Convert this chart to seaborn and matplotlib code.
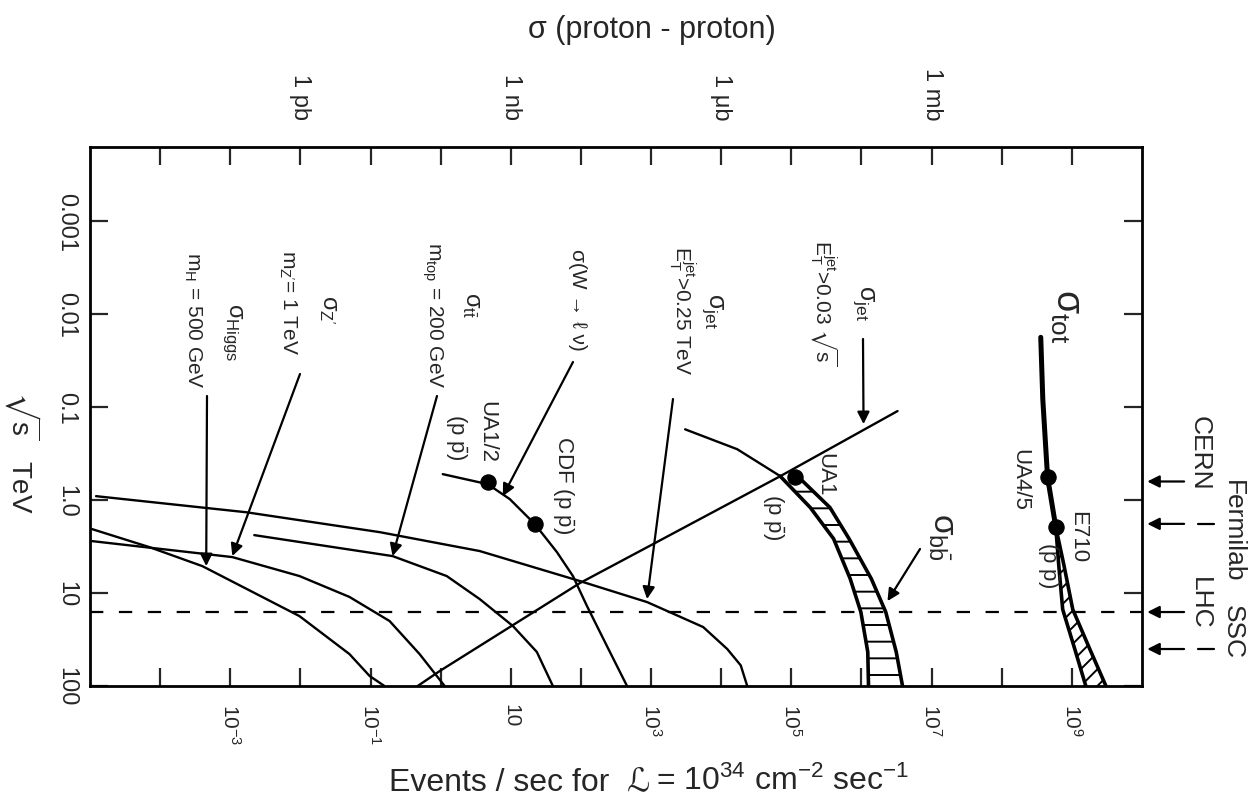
import matplotlib
matplotlib.use("Agg")
import matplotlib.pyplot as plt
import matplotlib.ticker as mticker
import pandas as pd
import seaborn as sns

# ---------------- data ----------------
# total cross section: solid part and hatched band
tot_sqrts = [0.0177, 0.082, 0.566, 1.95]
tot_events = [3.6e8, 3.85e8, 4.5e8, 5.9e8]
tot_band_sqrts = [1.95, 5.0, 15.0, 40.0, 100.0]
tot_band_low = [5.9e8, 6.5e8, 7.4e8, 1.1e9, 1.58e9]
tot_band_high = [5.9e8, 7.7e8, 1.03e9, 1.8e9, 3.06e9]

# b b-bar: thin part and hatched band
bb_sqrts_thin = [0.173, 0.283, 0.55]
bb_events_thin = [3.06e3, 1.69e4, 6.9e4]
bb_band_sqrts = [0.55, 1.2, 2.6, 7.0, 16.0, 43.0, 100.0]
bb_band_low = [6.9e4, 1.86e5, 4.0e5, 6.9e5, 9.8e5, 1.23e6, 1.26e6]
bb_band_high = [1.22e5, 3.55e5, 6.65e5, 1.38e6, 2.22e6, 3.13e6, 3.85e6]

# jets, E_T > 0.03 sqrt(s)
jet003_sqrts = [0.110, 0.552, 2.97, 7.8, 69.0, 100.0]
jet003_events = [3.27e6, 6.97e4, 1069, 96.8, 0.97, 0.47]

# jets, E_T > 0.25 TeV
jet025_sqrts = [0.906, 1.35, 2.21, 3.53, 7.43, 12.5, 23.2, 40.0, 60.0, 100.0]
jet025_events = [1.22e-5, 1.69e-3, 0.135, 3.6, 96.8, 877, 5.53e3, 1.22e4, 1.9e4, 2.35e4]

# W -> l nu
w_sqrts = [0.525, 0.673, 0.975, 1.81, 3.62, 6.56, 13.8, 37.2, 100.0]
w_events = [1.07, 4.69, 9.68, 22, 45.4, 76.9, 122, 235, 454]

# t t-bar, m_top = 200 GeV
tt_sqrts = [2.38, 4.0, 6.56, 11.6, 22.6, 43.0, 100.0]
tt_events = [2.2e-3, 0.206, 1.22, 3.6, 10.7, 23.5, 39.8]

# Z', m = 1 TeV
zp_sqrts = [2.76, 4.1, 6.56, 11.0, 20.0, 45.3, 100.0]
zp_events = [1.07e-5, 1.07e-3, 9.7e-3, 0.05, 0.187, 0.5, 1.14]

# Higgs, m_H = 500 GeV
higgs_sqrts = [2.05, 3.2, 5.13, 17.7, 45.3, 78.0, 100.0]
higgs_events = [1.07e-5, 7.0e-5, 4.0e-4, 9.7e-3, 0.05, 0.097, 0.158]

# measured points
point_names = ["UA1/2", "CDF", "UA1", "UA4/5", "E710"]
point_sqrts = [0.64, 1.81, 0.566, 0.566, 1.95]
point_events = [4.69, 22, 1.14e5, 4.5e8, 5.9e8]

# colliders
colliders = ["CERN", "Fermilab", "LHC", "SSC"]
collider_sqrts = [0.63, 1.8, 16.0, 40.0]
lhc_sqrts = 16.0

# axis ticks
x_tick_exps = list(range(-4, 10))
x_tick_labels = {-3: r"$10^{-3}$", -1: r"$10^{-1}$", 1: "10", 3: r"$10^{3}$",
                 5: r"$10^{5}$", 7: r"$10^{7}$", 9: r"$10^{9}$"}
y_tick_vals = [1e-3, 1e-2, 1e-1, 1.0, 10.0, 100.0]
y_tick_labels = ["0.001", "0.01", "0.1", "1.0", "10", "100"]
sigma_units = ["1 pb", "1 nb", "1 \u03bcb", "1 mb"]
sigma_events = [1e-2, 1e1, 1e4, 1e7]

# ---------------- style ----------------
sns.set_style("ticks")
plt.rcParams["font.family"] = ["Liberation Sans", "DejaVu Sans"]
plt.rcParams.update({
    "mathtext.fontset": "custom",
    "mathtext.rm": "Liberation Sans",
    "mathtext.it": "Liberation Sans:italic",
    "mathtext.bf": "Liberation Sans:bold",
    "mathtext.sf": "Liberation Sans",
    "mathtext.fallback": "stixsans",
    "hatch.linewidth": 1.4,
    "hatch.color": "black",
    "axes.edgecolor": "black",
    "axes.linewidth": 2.0,
})

W, H = 1257, 812
fig = plt.figure(figsize=(W / 100, H / 100), dpi=100)
fig.patch.set_facecolor("white")
ax = fig.add_axes([90 / W, 1 - 687 / H, 1052 / W, 539 / H])
ax.set_xscale("log")
ax.set_yscale("log")


def fxy(px, py):
    return (px / W, 1 - py / H)


# ---------------- curves ----------------
thin = pd.concat([
    pd.DataFrame({"curve": "jet003", "events": jet003_events, "sqrt_s": jet003_sqrts}),
    pd.DataFrame({"curve": "jet025", "events": jet025_events, "sqrt_s": jet025_sqrts}),
    pd.DataFrame({"curve": "w", "events": w_events, "sqrt_s": w_sqrts}),
    pd.DataFrame({"curve": "tt", "events": tt_events, "sqrt_s": tt_sqrts}),
    pd.DataFrame({"curve": "zp", "events": zp_events, "sqrt_s": zp_sqrts}),
    pd.DataFrame({"curve": "higgs", "events": higgs_events, "sqrt_s": higgs_sqrts}),
    pd.DataFrame({"curve": "bbthin", "events": bb_events_thin, "sqrt_s": bb_sqrts_thin}),
])
sns.lineplot(data=thin, x="events", y="sqrt_s", units="curve", estimator=None,
             sort=False, color="black", lw=1.7, ax=ax, legend=False)

# bands
ax.fill_betweenx(bb_band_sqrts, bb_band_low, bb_band_high, facecolor="none",
                 edgecolor="black", hatch="-", linewidth=0)
ax.fill_betweenx(tot_band_sqrts, tot_band_low, tot_band_high, facecolor="none",
                 edgecolor="black", hatch="//", linewidth=0)
edges = pd.concat([
    pd.DataFrame({"curve": "bblow", "events": bb_band_low, "sqrt_s": bb_band_sqrts}),
    pd.DataFrame({"curve": "bbhigh", "events": bb_band_high, "sqrt_s": bb_band_sqrts}),
    pd.DataFrame({"curve": "totlow", "events": tot_band_low, "sqrt_s": tot_band_sqrts}),
    pd.DataFrame({"curve": "tothigh", "events": tot_band_high, "sqrt_s": tot_band_sqrts}),
])
sns.lineplot(data=edges, x="events", y="sqrt_s", units="curve", estimator=None,
             sort=False, color="black", lw=2.6, ax=ax, legend=False)
sns.lineplot(x=tot_events, y=tot_sqrts, estimator=None, sort=False,
             color="black", lw=3.6, ax=ax, legend=False)

# measured points
sns.scatterplot(x=point_events, y=point_sqrts, color="black", s=120,
                edgecolor="black", ax=ax, zorder=6, legend=False)

# LHC dashed line
ax.axhline(lhc_sqrts, color="black", lw=1.6, ls=(0, (6, 7)))

# ---------------- axes ----------------
ax.set_xlim(1e-5, 1e10)
ax.set_ylim(100, 10 ** -3.8)
ax.set_xticks([10.0 ** k for k in x_tick_exps],
              labels=[x_tick_labels.get(k, "") for k in x_tick_exps])
ax.set_yticks(y_tick_vals, labels=y_tick_labels)
ax.xaxis.set_minor_locator(mticker.NullLocator())
ax.yaxis.set_minor_locator(mticker.NullLocator())
ax.tick_params(which="major", direction="in", length=13, width=1.6,
               top=True, right=True, labeltop=False, labelright=False)
ax.tick_params(axis="y", labelrotation=-90, labelsize=17, pad=9)
ax.tick_params(axis="x", labelrotation=-90, labelsize=15, pad=12)
for lbl in ax.get_yticklabels():
    lbl.set_va("center")
for sp in ax.spines.values():
    sp.set_visible(True)
    sp.set_linewidth(2.0)
ax.set_xlabel("")
ax.set_ylabel("")

sec = ax.secondary_xaxis("top")
sec.set_xticks(sigma_events, labels=sigma_units)
sec.tick_params(length=0, pad=20, labelsize=17, labelrotation=-90)
sec.spines["top"].set_visible(False)

# ---------------- texts ----------------
def put(txt, px, py, fs, **kw):
    fig.text(*fxy(px, py), txt, rotation=-90, ha="center", va="center",
             fontsize=fs, **kw)


fig.text(*fxy(652, 30), "\u03c3 (proton - proton)", ha="center", va="center", fontsize=22)
# x label in two parts so that the script L can come from DejaVu Sans
fig.text(*fxy(650, 790), "Events / sec for  \u2112", ha="right", va="baseline",
         fontsize=23, family=["Liberation Sans", "DejaVu Sans"])
fig.text(*fxy(656, 790), "= 10$^{34}$ cm$^{-2}$ sec$^{-1}$", ha="left",
         va="baseline", fontsize=23)
put(r"$\sqrt{\rm s}$   TeV", 22, 452, 20)

put("\u03c3$_{\\rm tot}$", 1066, 316, 27)
put("\u03c3$_{\\rm jet}$", 863, 303, 18)
put(r"E$_{\rm T}^{\rm jet}$>0.03 $\sqrt{\rm s}$", 824, 303, 15)
put("\u03c3$_{\\rm jet}$", 712, 311, 18)
put(r"E$_{\rm T}^{\rm jet}$>0.25 TeV", 682, 310, 15)
put("\u03c3(W \u2192 \u2113 \u03bd)", 577, 300, 15)
put("\u03c3$_{\\rm t\\bar{t}}$", 471, 305, 17)
put(r"m$_{\rm top}$ = 200 GeV", 432, 315, 15)
put("\u03c3$_{\\rm Z'}$", 328, 310, 17)
put(r"m$_{\rm Z'}$= 1 TeV", 288, 303, 15)
put("\u03c3$_{\\rm Higgs}$", 232, 332, 17)
put(r"m$_{\rm H}$ = 500 GeV", 193, 320, 15)
put("\u03c3$_{\\rm b\\bar{b}}$", 942, 537, 24)

put("UA1/2", 487, 432, 16)
put(r"(p $\bar{\rm p}$)", 456, 437, 16)
put(r"CDF (p $\bar{\rm p}$)", 563, 485, 16)
put("UA1", 825, 475, 16)
put(r"(p $\bar{\rm p}$)", 773, 517, 16)
put("UA4/5", 1020, 480, 16)
put("E710", 1078, 537, 16)
put(r"(p $\bar{\rm p}$)", 1048, 565, 16)

put("CERN", 1200, 453, 19)
put("Fermilab", 1233, 531, 19)
put("LHC", 1200, 603, 19)
put("SSC", 1233, 632, 19)

# label pointers: (tip in data, tail in figure pixels)
arrow_kw = dict(arrowstyle="-|>", color="black", lw=1.6, mutation_scale=18,
                shrinkA=0, shrinkB=0)
pointers = [
    ((1.07e6, 0.152), (863, 340)),
    ((877, 11.6), (673, 400)),
    ((7.69, 0.906), (573, 363)),
    ((0.206, 4.0), (437, 397)),
    ((1.07e-3, 4.0), (300, 375)),
    ((4.54e-4, 5.13), (207, 397)),
    ((2.35e6, 12.2), (920, 550)),
]
for tip, tail in pointers:
    ax.annotate("", xy=tip, xycoords="data", xytext=fxy(*tail),
                textcoords="figure fraction", arrowprops=arrow_kw,
                annotation_clip=False)

# collider arrows on the right
ytr = ax.get_yaxis_transform()
for name, s in zip(colliders, collider_sqrts):
    ax.annotate("", xy=(1.005, s), xycoords=ytr, xytext=(1.040, s),
                textcoords=ytr, arrowprops=arrow_kw, annotation_clip=False)
    if name in ("Fermilab", "SSC"):
        ax.plot([1.053, 1.068], [s, s], transform=ytr, color="black",
                lw=1.6, clip_on=False)

fig.savefig("out.png", dpi=100, facecolor="white")
